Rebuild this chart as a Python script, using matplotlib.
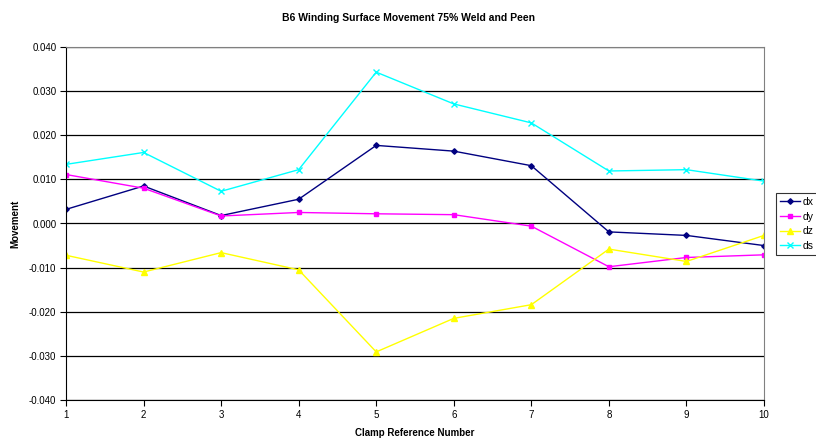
import matplotlib
matplotlib.use('Agg')
import matplotlib.pyplot as plt
from matplotlib import font_manager

# Data
clamps = [1, 2, 3, 4, 5, 6, 7, 8, 9, 10]
dx = [0.0032, 0.0085, 0.0018, 0.0055, 0.0177, 0.0164, 0.0131, -0.0019, -0.0027, -0.0050]
dy = [0.0111, 0.0080, 0.0017, 0.0025, 0.0022, 0.0020, -0.0006, -0.0098, -0.0077, -0.0071]
dz = [-0.0072, -0.0110, -0.0066, -0.0105, -0.0291, -0.0215, -0.0184, -0.0058, -0.0086, -0.0027]
ds = [0.0134, 0.0161, 0.0073, 0.0122, 0.0343, 0.0271, 0.0228, 0.0119, 0.0122, 0.0096]
y_ticks = [-0.040, -0.030, -0.020, -0.010, 0.000, 0.010, 0.020, 0.030, 0.040]

installed = {f.name for f in font_manager.fontManager.ttflist}
if 'Liberation Sans Narrow' in installed:
    plt.rcParams['font.family'] = ['Liberation Sans Narrow', 'Liberation Sans', 'DejaVu Sans']
else:
    plt.rcParams['font.family'] = ['Liberation Sans', 'DejaVu Sans']

fig = plt.figure(figsize=(8.16, 4.4), dpi=100)
ax = fig.add_axes([66 / 816, 1 - 400 / 440, (764 - 66) / 816, (400 - 47) / 440])

series = [
    ('dx', dx, '#000080', 'D', 2.8),
    ('dy', dy, '#FF00FF', 's', 3.4),
    ('dz', dz, '#FFFF00', '^', 3.8),
    ('ds', ds, '#00FFFF', 'x', 3.8),
]
for name, vals, col, mk, ms in series:
    ax.plot(clamps, vals, color=col, marker=mk, markersize=ms, linewidth=1.0,
            markeredgewidth=1.0, label=name)

ax.set_xlim(1, 10)
ax.set_ylim(-0.040, 0.040)
ax.set_xticks(clamps)
ax.set_yticks(y_ticks)
ax.set_yticklabels([f'{v:.3f}' for v in y_ticks])
ax.yaxis.grid(True, color='black', linewidth=0.9)
ax.set_axisbelow(True)

for side in ['top', 'right']:
    ax.spines[side].set_color('#808080')
for side in ['left', 'bottom']:
    ax.spines[side].set_color('black')
ax.tick_params(direction='out', length=4, width=0.8, labelsize=7, pad=3)

ax.set_xlabel('Clamp Reference Number', fontsize=7, fontweight='bold', labelpad=6)
ax.set_ylabel('Movement', fontsize=7, fontweight='bold', labelpad=6)
fig.suptitle('B6 Winding Surface Movement 75% Weld and Peen', fontsize=7.5,
             fontweight='bold', y=1 - 13 / 440)

leg = fig.legend(loc='center left', bbox_to_anchor=(776 / 816, 1 - 224 / 440),
                 fontsize=7.5, frameon=True, fancybox=False, edgecolor='black',
                 borderpad=0.35, labelspacing=0.45, handlelength=2.0, handletextpad=0.25,
                 borderaxespad=0)
leg.get_frame().set_linewidth(0.8)

fig.savefig('out.png', dpi=100)
